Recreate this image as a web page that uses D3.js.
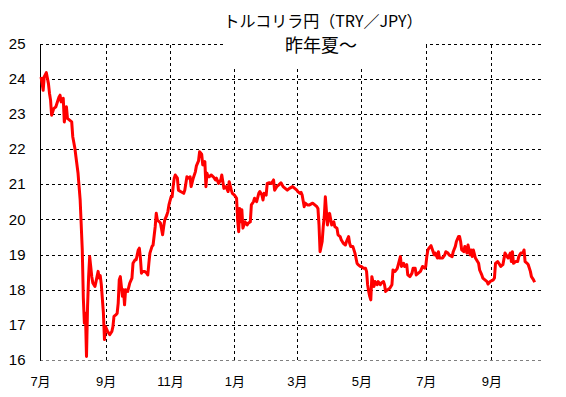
<!DOCTYPE html>
<html lang="ja">
<head>
<meta charset="UTF-8">
<title>トルコリラ円</title>
<script src="https://cdnjs.cloudflare.com/ajax/libs/d3/7.8.5/d3.min.js"></script>
<style>
    body { margin: 0; background: #fff; }
    .grid line { stroke: #000; stroke-dasharray: 3,3; shape-rendering: crispEdges; }
    .grid text { fill: #000; }
</style>
</head>
<body>
<script>
    // 2018-07-01 起点の経過日数とレート（チャートから読み取り）
    var startDate = "2018-07-01";
    var dayOffsets = [1, 3, 4, 6, 8, 9, 10, 11, 13, 15, 18, 19, 20, 22, 23, 25, 26, 28, 30, 31,
        33, 34, 36, 37, 38, 40, 41, 42, 43, 44, 45, 46, 47, 49, 50, 52, 53, 55, 56, 57,
        58, 60, 61, 62, 64, 66, 68, 69, 70, 72, 73, 74, 75, 76, 78, 79, 80, 81, 83, 85,
        87, 88, 90, 91, 93, 94, 95, 96, 97, 99, 101, 102, 103, 104, 106, 107, 109, 110, 111, 113,
        114, 116, 117, 118, 120, 121, 122, 124, 125, 126, 127, 128, 130, 131, 133, 136, 137, 139, 141, 142,
        143, 145, 147, 148, 150, 151, 153, 154, 155, 156, 157, 158, 159, 160, 162, 164, 166, 167, 169, 171,
        172, 174, 176, 178, 179, 181, 182, 184, 186, 187, 188, 189, 190, 191, 192, 194, 196, 197, 199, 200,
        202, 203, 205, 207, 208, 210, 211, 212, 214, 215, 217, 219, 221, 222, 224, 226, 228, 230, 232, 234,
        236, 239, 241, 243, 244, 246, 247, 248, 250, 251, 253, 255, 258, 260, 262, 263, 264, 265, 267, 268,
        269, 270, 272, 273, 274, 276, 278, 279, 281, 282, 284, 285, 287, 289, 290, 292, 293, 294, 296, 298,
        300, 301, 303, 304, 306, 308, 309, 310, 311, 312, 313, 314, 316, 317, 319, 320, 322, 323, 325, 326,
        327, 329, 331, 333, 334, 336, 338, 339, 341, 342, 344, 345, 347, 348, 350, 352, 353, 355, 356, 358,
        360, 362, 364, 365, 366, 367, 368, 370, 372, 373, 374, 376, 377, 378, 381, 383, 384, 386, 387, 390,
        391, 393, 394, 396, 397, 398, 399, 401, 402, 404, 405, 407, 408, 409, 410, 412, 413, 415, 416, 418,
        419, 421, 423, 424, 426, 427, 429, 430, 431, 433, 435, 436, 438, 440, 442, 443, 445, 446, 447, 448,
        450, 452, 453, 455, 457, 458, 459, 461, 462, 464, 465, 467, 468];
    var rates = [24.05, 23.67, 24.05, 24.17, 23.86, 23.58, 23.39, 22.96, 23.15, 23.20, 23.48, 23.53, 23.34, 23.44, 22.77, 23.20, 22.87, 22.82, 22.77, 22.35,
        22.02, 21.78, 21.31, 20.93, 20.55, 19.13, 17.76, 17.05, 17.33, 16.10, 17.52, 18.37, 18.94, 18.37, 18.19, 18.09, 18.23, 18.52, 18.33, 18.40,
        18.15, 17.33, 16.58, 16.95, 16.81, 16.72, 16.81, 16.95, 17.24, 17.29, 17.33, 17.62, 18.28, 18.37, 17.81, 18.00, 17.57, 18.00, 17.95, 18.19,
        18.33, 18.75, 18.85, 18.85, 19.13, 19.18, 18.90, 18.47, 18.52, 18.52, 18.47, 18.42, 18.75, 19.04, 19.23, 19.27, 19.79, 20.17, 19.98, 19.93,
        19.89, 19.56, 19.79, 19.98, 20.12, 20.22, 20.41, 20.64, 20.64, 20.93, 21.17, 21.26, 21.17, 20.83, 20.79, 20.74, 20.83, 21.21, 21.17, 21.21,
        20.93, 21.17, 21.35, 21.52, 21.66, 21.92, 21.85, 21.55, 21.54, 21.64, 20.93, 21.31, 21.21, 21.21, 21.26, 21.21, 21.12, 21.17, 21.02, 21.12,
        21.26, 20.88, 20.93, 20.79, 21.07, 20.83, 20.74, 20.69, 20.60, 19.98, 19.65, 20.31, 19.93, 20.27, 19.75, 19.93, 19.84, 19.89, 19.93, 20.41,
        20.50, 20.60, 20.50, 20.74, 20.79, 20.69, 20.55, 20.74, 20.69, 21.02, 21.04, 21.02, 21.12, 20.83, 20.93, 20.98, 21.04, 20.93, 20.88, 20.83,
        20.88, 20.93, 20.88, 20.83, 20.79, 20.74, 20.77, 20.70, 20.36, 20.46, 20.41, 20.41, 20.46, 20.41, 20.36, 20.31, 19.84, 19.08, 19.37, 19.79,
        20.08, 20.64, 19.84, 20.03, 20.17, 19.84, 19.93, 19.79, 19.75, 19.56, 19.51, 19.42, 19.32, 19.27, 19.37, 19.51, 19.32, 19.23, 19.23, 19.04,
        18.75, 18.71, 18.66, 18.66, 18.61, 18.61, 18.52, 18.14, 17.95, 17.81, 17.71, 18.37, 18.09, 18.23, 18.14, 18.23, 18.14, 18.19, 18.23, 18.14,
        17.95, 18.00, 18.04, 18.14, 18.56, 18.52, 18.60, 18.71, 18.94, 18.66, 18.75, 18.66, 18.71, 18.42, 18.37, 18.47, 18.61, 18.61, 18.42, 18.47,
        18.52, 18.66, 18.61, 18.66, 18.94, 19.13, 19.18, 19.25, 19.08, 18.99, 19.04, 18.90, 19.08, 18.90, 18.90, 18.99, 19.08, 19.04, 18.99, 18.94,
        19.08, 19.23, 19.37, 19.51, 19.51, 19.37, 19.13, 19.08, 19.23, 19.04, 19.27, 18.99, 19.13, 18.94, 19.13, 18.90, 18.85, 18.75, 18.56, 18.42,
        18.33, 18.28, 18.23, 18.16, 18.23, 18.25, 18.28, 18.33, 18.75, 18.80, 18.71, 18.66, 18.71, 19.04, 18.94, 18.90, 19.04, 18.80, 19.08, 18.75,
        18.80, 18.80, 18.94, 19.04, 19.04, 19.13, 18.80, 18.75, 18.71, 18.52, 18.37, 18.28, 18.21];

    var yTicks = [16, 17, 18, 19, 20, 21, 22, 23, 24, 25];
    var monthTicks = ["2018-07-01", "2018-09-01", "2018-11-01", "2019-01-01", "2019-03-01",
        "2019-05-01", "2019-07-01", "2019-09-01"];
    var titleLines = ["トルコリラ円（TRY／JPY）", "昨年夏～"];

    var W = 566, H = 397;
    var plotL = 40, plotR = 542, plotT = 43.5, plotB = 360;

    var parse = d3.timeParse("%Y-%m-%d");
    var t0 = parse(startDate);
    var data = dayOffsets.map(function(d, i) {
        return { date: d3.timeDay.offset(t0, d), value: rates[i] };
    });

    var x = d3.scaleTime()
        .domain([t0, d3.timeDay.offset(t0, 475)])
        .range([plotL, plotR]);
    var y = d3.scaleLinear().domain([16, 25]).range([plotB, plotT]);

    var svg = d3.select("body").append("svg")
        .attr("width", W)
        .attr("height", H)
        .style("display", "block");

    svg.append("rect").attr("width", W).attr("height", H).attr("fill", "#fff");

    // 横グリッド + Y軸ラベル
    var yAxis = svg.append("g")
        .attr("class", "grid")
        .attr("transform", "translate(" + plotL + ",0)")
        .call(d3.axisLeft(y).tickValues(yTicks).tickSize(-(plotR - plotL)).tickSizeOuter(0).tickPadding(14.5));
    yAxis.select(".domain").remove();
    yAxis.selectAll("text")
        .style("font-family", "'Liberation Sans', Arial, sans-serif")
        .style("font-size", "15px");
    yAxis.selectAll(".tick").filter(function(d) { return d === 16; })
        .select("line").style("stroke", "#808080");

    // 縦グリッド + X軸ラベル
    var xAxis = svg.append("g")
        .attr("class", "grid")
        .attr("transform", "translate(0," + plotB + ")")
        .call(d3.axisBottom(x).tickValues(monthTicks.map(parse))
            .tickSize(-(plotB - plotT)).tickSizeOuter(0).tickPadding(17)
            .tickFormat(d3.timeFormat("%-m月")));
    xAxis.select(".domain").remove();
    xAxis.selectAll("text")
        .style("font-family", "'Liberation Sans', 'Noto Sans CJK JP', sans-serif")
        .style("font-size", "13px");
    xAxis.selectAll(".tick").filter(function(d, i) { return i === 0; })
        .select("line").remove();

    // 左の実線
    svg.append("line")
        .attr("x1", plotL + 0.5).attr("x2", plotL + 0.5)
        .attr("y1", plotT).attr("y2", plotB + 0.5)
        .attr("stroke", "#000")
        .attr("shape-rendering", "crispEdges");

    // レート
    var line = d3.line()
        .x(function(d) { return x(d.date); })
        .y(function(d) { return y(d.value); });

    svg.append("path")
        .datum(data)
        .attr("d", line)
        .attr("fill", "none")
        .attr("stroke", "#ff0000")
        .attr("stroke-width", 3)
        .attr("stroke-linejoin", "round");

    // タイトル（白背景）
    svg.append("rect")
        .attr("x", 224).attr("y", 0)
        .attr("width", 202).attr("height", 66)
        .attr("fill", "#fff");

    svg.append("text")
        .attr("x", 323).attr("y", 27)
        .attr("text-anchor", "middle")
        .style("font-family", "'Noto Sans CJK JP', sans-serif")
        .style("font-size", "16px")
        .text(titleLines[0]);

    svg.append("text")
        .attr("x", 321).attr("y", 52)
        .attr("text-anchor", "middle")
        .style("font-family", "'Noto Sans CJK JP', sans-serif")
        .style("font-size", "18px")
        .text(titleLines[1]);
</script>
</body>
</html>
